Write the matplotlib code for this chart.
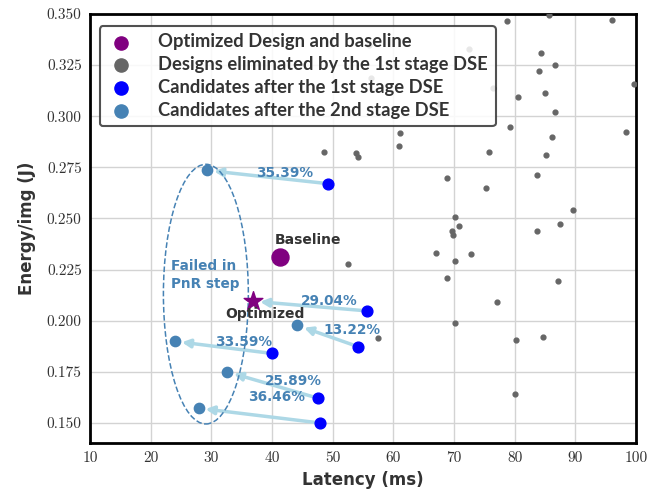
import matplotlib

matplotlib.use("Agg")
import matplotlib.pyplot as plt
from matplotlib.patches import Ellipse

# designs dropped by the 1st stage DSE (latency ms, energy J)
gray_x = [78.7, 85.7, 96.0, 84.4, 86.7, 84.0, 99.7, 80.6, 85.0, 86.7, 79.3, 98.4,
          86.2, 85.2, 61.1, 60.9, 75.8, 48.6, 53.9, 54.2, 68.9, 75.3, 83.7, 89.6,
          70.2, 70.8, 87.5, 69.7, 69.8, 83.6, 52.6, 67.0, 72.8, 70.2, 68.8, 87.2,
          77.1, 70.2, 57.4, 80.3, 84.6, 80.1]
gray_y = [0.3466, 0.3495, 0.3471, 0.3309, 0.3251, 0.3219, 0.3158, 0.3092, 0.3116,
          0.3023, 0.2945, 0.2923, 0.2897, 0.2812, 0.2920, 0.2853, 0.2827, 0.2827,
          0.2822, 0.2800, 0.2698, 0.2649, 0.2711, 0.2543, 0.2505, 0.2464, 0.2474,
          0.2438, 0.2417, 0.2438, 0.2278, 0.2330, 0.2327, 0.2293, 0.2209, 0.2196,
          0.2092, 0.1989, 0.1915, 0.1905, 0.1918, 0.1642]
# the ones hidden behind the legend
faint_x = [56.0, 72.4, 56.4, 76.4, 67.5]
faint_y = [0.3348, 0.3328, 0.3188, 0.3137, 0.3062]

# 1st stage candidates -> where the 2nd stage moved them
stage1_x = [49.3, 55.7, 54.2, 40.0, 47.6, 47.9]
stage1_y = [0.2670, 0.2048, 0.1873, 0.1840, 0.1621, 0.1500]
stage2_x = [29.3, 36.9, 44.2, 24.0, 32.6, 27.9]
stage2_y = [0.2735, 0.2095, 0.1977, 0.1899, 0.1750, 0.1572]
gains = ["35.39%", "29.04%", "13.22%", "33.59%", "25.89%", "36.46%"]
gain_pos = [(42.1, 0.2724), (49.4, 0.2095), (53.1, 0.1953),
            (35.3, 0.1894), (43.5, 0.1706), (40.8, 0.1629)]

baseline = (41.3, 0.2314)
optimized = (36.9, 0.2095)

SANS = "DejaVu Sans"
LEG_FONT = "Lato"
C_TXT = "#333333"
C_SB = "#4682B4"

fig = plt.figure(figsize=(6.6, 4.93), dpi=100)
ax = fig.add_axes([90 / 660, 50 / 493, 546 / 660, 429 / 493])

ax.scatter(gray_x, gray_y, s=12, color="#666666", zorder=3)
ax.scatter(faint_x, faint_y, s=12, color="#666666", zorder=3)

for i in range(len(stage1_x)):
    ax.annotate("", xy=(stage2_x[i], stage2_y[i]), xytext=(stage1_x[i], stage1_y[i]),
                arrowprops=dict(arrowstyle="-|>", color="#ADD8E6", lw=2.5,
                                mutation_scale=12, shrinkA=4, shrinkB=5),
                zorder=4)
    ax.text(gain_pos[i][0], gain_pos[i][1], gains[i], color=C_SB, fontsize=9.8,
            fontweight="bold", family=SANS, ha="center", va="center", zorder=6)

ax.scatter(stage1_x, stage1_y, s=60, color="blue", zorder=5)
ax.scatter(stage2_x[:1] + stage2_x[2:], stage2_y[:1] + stage2_y[2:], s=55,
           color=C_SB, zorder=5)
ax.scatter([baseline[0]], [baseline[1]], s=150, color="purple", zorder=5)
ax.scatter([optimized[0]], [optimized[1]], s=200, marker="*", color="purple", zorder=5)

ax.text(40.5, 0.2397, "Baseline", color=C_TXT, fontsize=10, fontweight="bold",
        family=SANS, ha="left", va="center", zorder=6)
ax.text(38.9, 0.2034, "Optimized", color=C_TXT, fontsize=10, fontweight="bold",
        family=SANS, ha="center", va="center", zorder=6)

ax.add_patch(Ellipse((29.1, 0.213), 14.0, 0.127, fill=False, ls="--", lw=1.1,
                     edgecolor=C_SB, zorder=4))
ax.text(23.3, 0.2225, "Failed in\nPnR step", color=C_SB, fontsize=9.8,
        fontweight="bold", family=SANS, ha="left", va="center", linespacing=1.35,
        zorder=6)

# legend handles
ax.scatter([], [], s=90, color="purple", label="Optimized Design and baseline")
ax.scatter([], [], s=90, color="#666666", label="Designs eliminated by the 1st stage DSE")
ax.scatter([], [], s=90, color="blue", label="Candidates after the 1st stage DSE")
ax.scatter([], [], s=90, color=C_SB, label="Candidates after the 2nd stage DSE")
leg = ax.legend(loc="upper left", prop=dict(family=LEG_FONT, weight="bold", size=13.2),
                frameon=True, fancybox=True, framealpha=0.85, edgecolor=C_TXT,
                borderpad=0.4, labelspacing=0.32, handlelength=1.5,
                handletextpad=1.3, borderaxespad=0,
                bbox_to_anchor=(0.018, 0.972))
leg.get_frame().set_linewidth(1.5)
for t in leg.get_texts():
    t.set_color(C_TXT)
leg.set_zorder(10)

ax.set_xlim(10, 100)
ax.set_ylim(0.1402, 0.35)
ax.set_xticks(range(10, 101, 10))
ax.set_yticks([0.150, 0.175, 0.200, 0.225, 0.250, 0.275, 0.300, 0.325, 0.350])
ax.set_yticklabels([f"{v:.3f}" for v in ax.get_yticks()])
ax.tick_params(length=0, pad=6, labelsize=11, labelcolor="#333333")
for lab in ax.get_xticklabels() + ax.get_yticklabels():
    lab.set_family("cmr10")
ax.grid(color="#d3d3d3", lw=1)
ax.set_axisbelow(True)
for sp in ax.spines.values():
    sp.set_linewidth(2)
    sp.set_color("black")

ax.set_xlabel("Latency (ms)", family=SANS, fontweight="bold", fontsize=12,
              color=C_TXT, labelpad=4)
ax.set_ylabel("Energy/img (J)", family=SANS, fontweight="bold", fontsize=12,
              color=C_TXT, labelpad=8)

fig.savefig("out.png", dpi=100)
